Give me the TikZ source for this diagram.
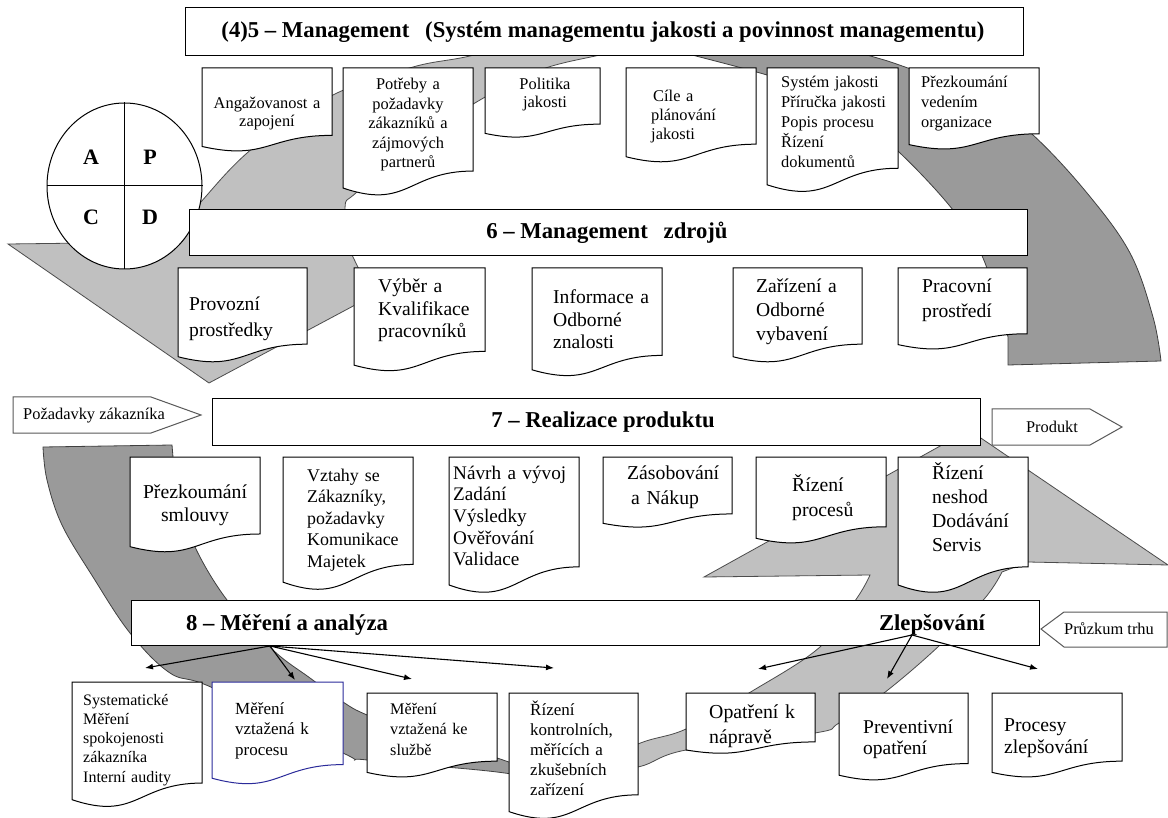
\documentclass[tikz,border=0pt]{standalone}
\usepackage{fontspec}
\setmainfont{Liberation Serif}
\usetikzlibrary{arrows.meta,shapes.geometric}
\definecolor{lgrey}{HTML}{C0C0C0}
\definecolor{dgrey}{HTML}{9A9A9A}
\definecolor{mblue}{HTML}{2B2B9A}
\newcommand\fsz[2]{\fontsize{#1pt}{#2pt}\selectfont}
\newcommand\docshape[5][]{%
 \pgfmathsetmacro\dxr{#2+#4}%
 \pgfmathsetmacro\dxm{#2+0.5*#4}%
 \pgfmathsetmacro\dya{#3+0.802*#5}%
 \pgfmathsetmacro\dyb{#3+1.107*#5}%
 \pgfmathsetmacro\dyc{#3+0.934*#5}%
 \draw[docline,#1] (#2,#3) -- (\dxr,#3) -- (\dxr,\dya) .. controls (\dxm,\dya) and (\dxm,\dyb) .. (#2,\dyc) -- cycle;}
\begin{document}
\begin{tikzpicture}[x=1pt,y=-1pt,
 lightband/.style={fill=lgrey, draw=black!70, line width=0.8pt},
 darkband/.style={fill=dgrey, draw=black!75, line width=0.8pt},
 docline/.style={fill=white, draw=black, line width=1pt},
 hbox/.style={draw=black, fill=white, line width=1pt, anchor=north west, inner sep=0pt},
 htext/.style={inner sep=0pt, font=\fsz{22.7}{26}\bfseries},
 dt/.style={inner sep=0pt, text width=170pt, align=left, anchor=base west},
 dc/.style={inner sep=0pt, align=center, anchor=base},
 pent/.style={draw=black!65, fill=white, line width=1pt},
 ptext/.style={inner sep=0pt, anchor=base, font=\fsz{16.4}{19}},
 conn/.style={draw=black, line width=1.1pt, -{Latex[length=8pt,width=6pt]}},
 pdcal/.style={inner sep=0pt, font=\fsz{22}{24}\bfseries}]
\useasboundingbox (0,0) rectangle (1168,818);
\fill[white] (0,0) rectangle (1168,818);

% ---------- grey cycle bands ----------
\path[lightband] plot[smooth, tension=0.6] coordinates {(650,12) (560,30) (474,55) (413,67) (333,95) (253,148) (200,203) (168,242)}
  -- (8,244) -- (209,383) -- (372,296)
  -- plot[smooth, tension=0.6] coordinates {(352,255) (345,208) (357,192) (420,140) (480,100) (540,70) (600,55) (650,45)} -- cycle;
\path[darkband] plot[smooth, tension=0.6] coordinates {(650,12) (760,25) (867,55) (905,67) (980,95) (1033,135) (1087,193) (1130,253) (1153,317) (1161,361)}
  -- (1008,365)
  -- plot[smooth, tension=0.6] coordinates {(1008,337) (983,258) (953,210) (900,153) (850,112) (800,87) (767,75) (692,55) (650,45)} -- cycle;
\path[darkband] (43,447) -- (172,445)
  -- plot[smooth, tension=0.6] coordinates {(173,457) (182,505) (195,547) (227,600) (273,650) (310,678) (343,702) (367,715) (430,740) (497,758) (570,785)}
  -- plot[smooth, tension=0.6] coordinates {(570,785) (497,772) (367,760) (343,753) (213,688) (170,673) (130,633) (93,577) (62,525) (47,480) (43,447)} -- cycle;
\path[lightband] plot[smooth, tension=0.6] coordinates {(575,775) (638,744) (686,729) (749,693) (820,647) (857,598) (870,575)}
  -- (704,577) -- (969,430) -- (1168,565) -- (1028,562)
  -- plot[smooth, tension=0.6] coordinates {(1002,572) (985,598) (940,645) (884,693) (839,723) (815,733) (686,750) (638,767) (575,775)} -- cycle;

% ---------- PDCA circle ----------
\node[draw=black, fill=white, line width=1pt, ellipse, minimum width=155pt, minimum height=166pt, inner sep=0pt] (pdca) at (124.5,186) {};
\draw[line width=1pt] (pdca.north) -- (pdca.south);
\draw[line width=1pt] (pdca.west) -- (pdca.east);
\node[pdcal] (pA) at (91,157) {A};
\node[pdcal] (pP) at (150,157) {P};
\node[pdcal] (pC) at (91,217) {C};
\node[pdcal] (pD) at (150,217) {D};

% ---------- section 5 ----------
\node[hbox, minimum width=838pt, minimum height=48pt] (mgmt) at (185,7) {};
\node[htext, anchor=base] (mgmtT) at (603,38) {(4)5 – Management\hspace{0.45em} (Systém managementu jakosti a povinnost managementu)};

\docshape{202}{68}{130}{84}
\node[dc, text width=130pt, font=\fsz{16.4}{18}] (d11) at (267,109) {Angažovanost a\\zapojení};
\docshape{343}{68}{130}{128.5}
\node[dc, text width=130pt, font=\fsz{16.4}{19.5}] (d12) at (408,90) {Potřeby a\\požadavky\\zákazníků a\\zájmových\\partnerů};
\docshape{485}{68}{115}{70}
\node[dc, text width=115pt, font=\fsz{16.4}{18}] (d13) at (545,90) {Politika\\jakosti};
\docshape{626}{68}{130}{95}
\node[dt, font=\fsz{16.4}{19}] (d14) at (651,102) {\hspace{2pt}Cíle a\\plánování\\jakosti};
\docshape{767}{68}{131}{125}
\node[dt, font=\fsz{16.4}{20}] (d15) at (781,88) {Systém jakosti\\Příručka jakosti\\Popis procesu\\Řízení\\dokumentů};
\docshape{909}{68}{130}{82}
\node[dt, font=\fsz{16.4}{20}] (d16) at (921,88) {Přezkoumání\\vedením\\organizace};

% ---------- section 6 ----------
\node[hbox, minimum width=838pt, minimum height=46pt] (res) at (189,209) {};
\node[htext, anchor=base] (resT) at (607,239) {6 – Management\hspace{0.45em} zdrojů};

\docshape{178}{268}{129}{95}
\node[dt, font=\fsz{19.6}{26}] (d21) at (189,311) {Provozní\\prostředky};
\docshape{354}{268}{131}{104}
\node[dt, font=\fsz{19.6}{22.5}] (d22) at (378,293) {Výběr a\\Kvalifikace\\pracovníků};
\docshape{532}{268}{130}{109}
\node[dt, font=\fsz{19.6}{22.5}] (d23) at (553,304) {Informace a\\Odborné\\znalosti};
\docshape{733}{268}{129}{95}
\node[dt, font=\fsz{19.6}{24}] (d24) at (756,293) {Zařízení a\\Odborné\\vybavení};
\docshape{898}{268}{129}{82}
\node[dt, font=\fsz{19.6}{25}] (d25) at (922,293) {Pracovní\\prostředí};

% ---------- section 7 ----------
\draw[pent] (13,397) -- (151,397) -- (201,415) -- (151,433) -- (13,433) -- cycle;
\node[ptext] (inreq) at (94,420) {Požadavky zákazníka};
\node[hbox, minimum width=768pt, minimum height=47pt] (real) at (212,398) {};
\node[htext, anchor=base] (realT) at (603,428) {7 – Realizace produktu};
\draw[pent] (992,409) -- (1090,409) -- (1122,427) -- (1090,445) -- (992,445) -- cycle;
\node[ptext] (outprod) at (1052,432) {Produkt};

\docshape{130}{457}{130}{96}
\node[dc, text width=130pt, font=\fsz{19.7}{23}] (d31) at (195,498) {Přezkoumání\\smlouvy};
\docshape{283}{457}{130}{134}
\node[dt, font=\fsz{17.9}{21.5}] (d32) at (307,481) {Vztahy se\\Zákazníky,\\požadavky\\Komunikace\\Majetek};
\docshape{449}{457}{130}{137}
\node[dt, font=\fsz{19.2}{21.7}] (d33) at (453,479) {Návrh a vývoj\\Zadání\\Výsledky\\Ověřování\\Validace};
\docshape{603}{457}{129}{71}
\node[dt, font=\fsz{19.7}{25}] (d34) at (627,479) {Zásobování\\\hspace{4pt}a Nákup};
\docshape{756}{457}{130}{87}
\node[dt, font=\fsz{19.7}{25}] (d35) at (792,491) {Řízení\\procesů};
\docshape{898}{457}{130}{137}
\node[dt, font=\fsz{19.7}{24}] (d36) at (932,479) {Řízení\\neshod\\Dodávání\\Servis};

% ---------- section 8 ----------
\node[hbox, minimum width=908pt, minimum height=45pt] (meas) at (131,600) {};
\node[htext, anchor=base west] (measT) at (186,630) {8 – Měření a analýza};
\node[htext, anchor=base] (imprT) at (932,630) {Zlepšování};
\draw[pent] (1041,629) -- (1064,612) -- (1167,612) -- (1167,647) -- (1064,647) -- cycle;
\node[ptext] (market) at (1109,634) {Průzkum trhu};

\docshape{72}{682}{130}{126}
\node[dt, font=\fsz{16}{19.3}] (d41) at (83,705) {Systematické\\Měření\\spokojenosti\\zákazníka\\Interní audity};
\docshape[draw=mblue]{212}{682}{131}{103}
\node[dt, font=\fsz{17}{20.5}] (d42) at (235,714) {Měření\\vztažená k\\procesu};
\docshape{367}{693}{130}{85}
\node[dt, font=\fsz{16.2}{20.5}] (d43) at (390,714) {Měření\\vztažená ke\\službě};
\docshape{509}{693}{129}{127}
\node[dt, font=\fsz{17}{20}] (d44) at (530,715) {Řízení\\kontrolních,\\měřících a\\zkušebních\\zařízení};
\docshape{686}{693}{129}{61}
\node[dt, font=\fsz{19.8}{25}] (d45) at (709,718) {Opatření k\\nápravě};
\docshape{839}{693}{129}{88}
\node[dt, font=\fsz{19.5}{21}] (d46) at (863,733) {Preventivní\\opatření};
\docshape{992}{693}{130}{85}
\node[dt, font=\fsz{19.7}{22}] (d47) at (1004,731) {Procesy\\zlepšování};

% ---------- arrows ----------
\coordinate (mo) at (270,646);
\coordinate (ma1) at (145,668);
\coordinate (ma2) at (295,680);
\coordinate (ma3) at (412,679);
\coordinate (ma4) at (554,668);
\draw[conn] (mo) -- (ma1);
\draw[conn] (mo) -- (ma2);
\draw[conn] (mo) -- (ma3);
\draw[conn] (mo) -- (ma4);
\coordinate (zo) at (912,635);
\coordinate (za1) at (758,669);
\coordinate (za2) at (887,679);
\coordinate (za3) at (1038,669);
\draw[conn] (zo) -- (za1);
\draw[conn] (zo) -- (za2);
\draw[conn] (zo) -- (za3);
\end{tikzpicture}
\end{document}
